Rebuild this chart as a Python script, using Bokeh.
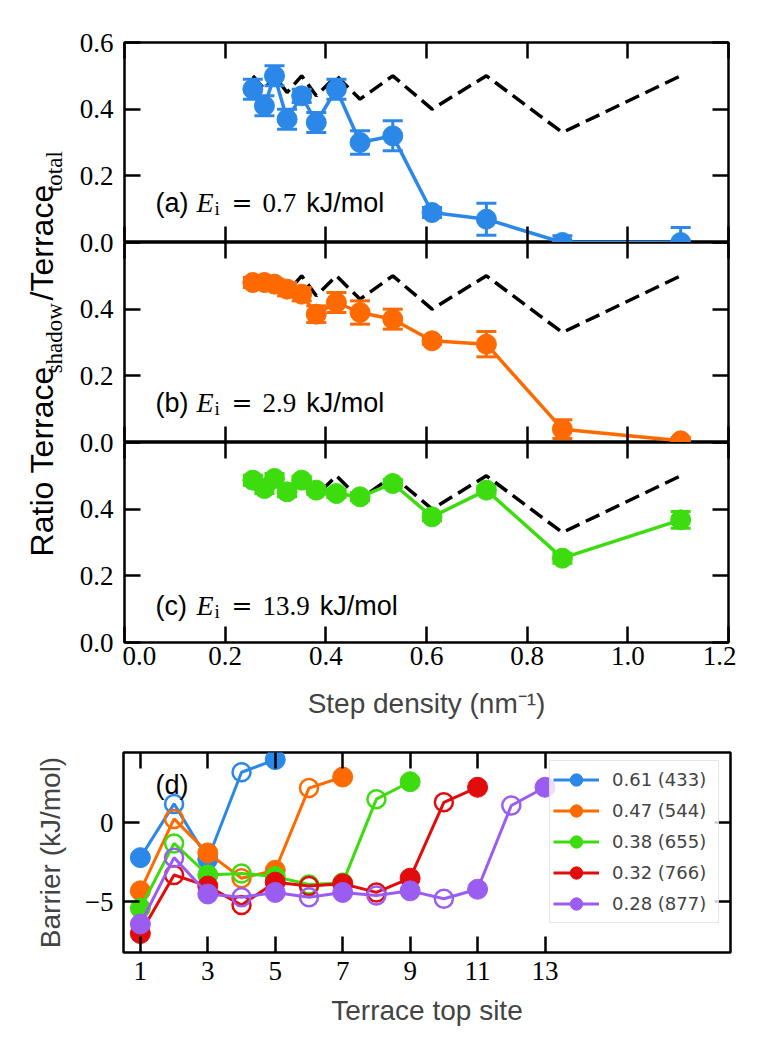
from bokeh.plotting import figure
from bokeh.models import (Range1d, LinearAxis, FixedTicker, Label, Legend,
                          LegendItem, ColumnDataSource)
from bokeh.layouts import column, row
from bokeh.embed import file_html
from bokeh.resources import INLINE

SANS = "Liberation Sans"
SERIF = "Liberation Serif"

# ---------------- data: panels (a)-(c) ----------------
step_density = [0.255, 0.278, 0.298, 0.323, 0.352, 0.381, 0.421, 0.468,
                0.533, 0.611, 0.719, 0.870, 1.105]
ideal_ratio = [0.50, 0.46, 0.50, 0.45, 0.50, 0.44, 0.50, 0.43, 0.50,
               0.40, 0.50, 0.33, 0.50]
ratio_a = [0.46, 0.41, 0.50, 0.37, 0.44, 0.36, 0.46, 0.30, 0.32, 0.09,
           0.07, 0.00, 0.00]
err_a = [0.03, 0.03, 0.03, 0.03, 0.02, 0.03, 0.03, 0.035, 0.045, 0.015,
         0.048, 0.02, 0.045]
ratio_b = [0.48, 0.48, 0.475, 0.46, 0.445, 0.385, 0.42, 0.39, 0.37, 0.305,
           0.295, 0.04, 0.005]
err_b = [0.015, 0.015, 0.015, 0.02, 0.02, 0.025, 0.03, 0.035, 0.03, 0.01,
         0.038, 0.028, 0.01]
ratio_c = [0.487, 0.462, 0.492, 0.452, 0.487, 0.457, 0.447, 0.437, 0.477,
           0.377, 0.457, 0.253, 0.368]
err_c = [0.015, 0.015, 0.015, 0.015, 0.012, 0.012, 0.012, 0.012, 0.012,
         0.012, 0.012, 0.015, 0.025]
panel_letters = ["(a)", "(b)", "(c)"]
panel_energies = ["0.7", "2.9", "13.9"]
panel_colors = ["#2c88e8", "#ff6a00", "#3ddc0f"]

ratio_ticks = [0.0, 0.2, 0.4, 0.6]
ratio_tick_labels = ["0.0", "0.2", "0.4", "0.6"]
density_ticks = [0.0, 0.2, 0.4, 0.6, 0.8, 1.0, 1.2]
density_tick_labels = ["0.0", "0.2", "0.4", "0.6", "0.8", "1.0", "1.2"]

# ---------------- data: panel (d) ----------------
series_labels = ["0.61 (433)", "0.47 (544)", "0.38 (655)", "0.32 (766)", "0.28 (877)"]
series_colors = ["#2c88e8", "#ff6a00", "#3ddc0f", "#e20c0c", "#9b5cf2"]
barrier_061 = [-2.2, 1.2, -2.3, 3.2, 4.0]
barrier_047 = [-4.3, 0.25, -1.9, -3.5, -3.0, 2.2, 2.9]
barrier_038 = [-5.4, -1.3, -3.3, -3.2, -3.4, -3.9, -3.8, 1.5, 2.6]
barrier_032 = [-7.0, -3.3, -4.0, -5.2, -3.75, -4.0, -3.85, -4.4, -3.5, 1.3, 2.25]
barrier_028 = [-6.4, -2.2, -4.5, -4.7, -4.4, -4.7, -4.4, -4.6, -4.3, -4.8,
               -4.2, 1.1, 2.25]
barriers = [barrier_061, barrier_047, barrier_038, barrier_032, barrier_028]
site_ticks = [1, 3, 5, 7, 9, 11, 13]
site_tick_labels = ["1", "3", "5", "7", "9", "11", "13"]
barrier_ticks = [-5, 0]
barrier_tick_labels = ["\u22125", "0"]

COL_H = 42 + 3 * 200 + 105   # height of the stacked panels column


def style_axis(ax, ticks, labels=None):
    ax.ticker = FixedTicker(ticks=ticks)
    ax.major_tick_in = 16
    ax.major_tick_out = 0
    ax.major_tick_line_width = 2.5
    ax.major_tick_line_color = "black"
    ax.minor_tick_line_color = None
    ax.axis_line_color = None
    ax.axis_label = None
    if labels is None:
        ax.major_label_text_font_size = "0px"
        ax.major_label_text_color = None
        ax.major_label_standoff = 0
    else:
        ax.major_label_overrides = {t: l for t, l in zip(ticks, labels)}
        ax.major_label_text_font = SERIF
        ax.major_label_text_font_size = "27px"
        ax.major_label_text_color = "black"


def base_style(p):
    p.outline_line_color = "black"
    p.outline_line_width = 2.5
    p.xgrid.visible = False
    p.ygrid.visible = False
    p.background_fill_color = "white"
    p.border_fill_color = "white"


def add_text(p, txt, x, y, font, size, style="normal", angle=0):
    p.add_layout(Label(x=x, y=y, x_units="screen", y_units="screen", text=txt,
                       text_font=font, text_font_size=size, text_font_style=style,
                       angle=angle, angle_units="deg", text_color="black",
                       text_baseline="alphabetic", text_align="left"))


panels = []
ratios = [ratio_a, ratio_b, ratio_c]
errs = [err_a, err_b, err_c]
for i in range(3):
    last = (i == 2)
    p = figure(frame_width=604, frame_height=200,
               x_range=Range1d(0, 1.2), y_range=Range1d(0, 0.6),
               min_border_left=2, min_border_right=8,
               min_border_top=42 if i == 0 else 0,
               min_border_bottom=105 if last else 0,
               toolbar_location=None, output_backend="svg", title=None)
    base_style(p)
    p.add_layout(LinearAxis(), "above")
    p.add_layout(LinearAxis(), "right")
    for ax in p.yaxis:
        style_axis(ax, ratio_ticks)
    for ax in p.xaxis:
        style_axis(ax, density_ticks)
    if last:
        bx = p.below[0]
        style_axis(bx, density_ticks, density_tick_labels)
        bx.major_label_standoff = 4
        bx.axis_label = "Step density (nm\u207b\u00b9)"
        bx.axis_label_text_font = SANS
        bx.axis_label_text_font_size = "28px"
        bx.axis_label_text_font_style = "normal"
        bx.axis_label_standoff = 20

    c = panel_colors[i]
    p.line(step_density, ideal_ratio, line_color="black", line_width=3.5,
           line_dash="15 7")
    src = ColumnDataSource(dict(
        x=step_density, y=ratios[i],
        lo=[r - e for r, e in zip(ratios[i], errs[i])],
        hi=[r + e for r, e in zip(ratios[i], errs[i])]))
    p.segment(x0="x", y0="lo", x1="x", y1="hi", source=src, line_color=c, line_width=3)
    p.line("x", "y", source=src, line_color=c, line_width=3.5)
    p.scatter("x", "y", source=src, size=20, fill_color=c, line_color=c)
    p.scatter("x", "lo", source=src, marker="dash", size=20, line_color=c, line_width=3)
    p.scatter("x", "hi", source=src, marker="dash", size=20, line_color=c, line_width=3)

    # annotation text "(a) E_i = 0.7 kJ/mol"
    yb = 37 if last else 40
    num_w = sum(6.75 if ch == "." else 13.5 for ch in panel_energies[i])
    add_text(p, panel_letters[i], 31, yb, SANS, "27px")
    add_text(p, "E", 72, yb, SERIF, "28px", "italic")
    add_text(p, "i", 90, yb - 6, SERIF, "19px")
    add_text(p, "=", 107, yb, "DejaVu Serif", "25px")
    add_text(p, panel_energies[i], 138, yb, SERIF, "27px")
    add_text(p, "kJ/mol", 138 + num_w + 10, yb, SANS, "27px")
    panels.append(p)

# ---------------- strip with the rotated y label ----------------
Y = figure(frame_width=76, frame_height=COL_H, x_range=Range1d(0, 1),
           y_range=Range1d(0, 1), min_border_left=0, min_border_right=0,
           min_border_top=0, min_border_bottom=0, x_axis_location=None,
           y_axis_location=None, toolbar_location=None, output_backend="svg",
           title=None)
Y.outline_line_color = None
Y.xgrid.visible = False
Y.ygrid.visible = False
# (text, font, size in px, page y where the piece starts, page x of its baseline)
ylab = [
    ("Ratio Terrace", SANS, 32, 552.0, 55),
    ("shadow", SERIF, 23, 358.2, 63),
    ("/Terrace", SANS, 32, 296.0, 55),
    ("total", SERIF, 23, 176.9, 63),
]
for txt, font, fs, ypage, xpage in ylab:
    # rotated labels are drawn offset by roughly (0.41, 1.19) x font size
    ax_ = xpage - 0.41 * fs
    ay_ = ypage - 1.19 * fs
    add_text(Y, txt, ax_, COL_H - ay_, font, f"{fs}px", angle=90)

# ---------------- strip with stacked tick labels ----------------
L = figure(frame_width=7, frame_height=600, x_range=Range1d(0, 1),
           y_range=Range1d(0, 1.8), min_border_left=38, min_border_right=0,
           min_border_top=42, min_border_bottom=105, x_axis_location=None,
           y_axis_location="left", toolbar_location=None, output_backend="svg",
           title=None)
L.outline_line_color = None
L.xgrid.visible = False
L.ygrid.visible = False
stack_ticks, stack_labels = [], []
for k in range(3):
    for t, lab in zip(ratio_ticks[:3], ratio_tick_labels[:3]):
        stack_ticks.append(round(k * 0.6 + t, 6))
        stack_labels.append(lab)
stack_ticks.append(1.8)
stack_labels.append(ratio_tick_labels[3])
ly = L.yaxis[0]
ly.ticker = FixedTicker(ticks=stack_ticks)
ly.major_label_overrides = {t: l for t, l in zip(stack_ticks, stack_labels)}
ly.major_tick_in = 0
ly.major_tick_out = 0
ly.minor_tick_line_color = None
ly.axis_line_color = None
ly.major_tick_line_color = None
ly.major_label_standoff = 2
ly.major_label_text_font = SERIF
ly.major_label_text_font_size = "27px"
ly.major_label_text_color = "black"

# ---------------- panel (d) ----------------
fd = figure(frame_width=607, frame_height=200, x_range=Range1d(0.5, 18.5),
            y_range=Range1d(-8.2, 4.45), min_border_left=123, min_border_right=8,
            min_border_top=5, min_border_bottom=100, toolbar_location=None,
            output_backend="svg", title=None)
base_style(fd)
fd.add_layout(LinearAxis(), "above")
fd.add_layout(LinearAxis(), "right")
for ax in fd.xaxis:
    style_axis(ax, site_ticks)
for ax in fd.yaxis:
    style_axis(ax, barrier_ticks)
bx = fd.below[0]
style_axis(bx, site_ticks, site_tick_labels)
bx.major_label_standoff = 9
bx.axis_label = "Terrace top site"
lx = fd.left[0]
style_axis(lx, barrier_ticks, barrier_tick_labels)
lx.major_label_standoff = 10
lx.axis_label = "Barrier (kJ/mol)"
for ax in (bx, lx):
    ax.axis_label_text_font = SANS
    ax.axis_label_text_font_size = "28px"
    ax.axis_label_text_font_style = "normal"
bx.axis_label_standoff = 12
lx.axis_label_standoff = 16

items = []
for lab, c, vals in zip(series_labels, series_colors, barriers):
    sites = list(range(1, len(vals) + 1))
    r_line = fd.line(sites, vals, line_color=c, line_width=3)
    odd = [(s, v) for s, v in zip(sites, vals) if s % 2 == 1]
    even = [(s, v) for s, v in zip(sites, vals) if s % 2 == 0]
    r_fill = fd.scatter([s for s, _ in odd], [v for _, v in odd], size=20,
                        fill_color=c, line_color=c)
    fd.scatter([s for s, _ in even], [v for _, v in even], size=18,
               fill_color=None, line_color=c, line_width=2.5)
    items.append(LegendItem(label=lab, renderers=[r_line, r_fill]))

legend = Legend(items=items, location=(426, 29), glyph_width=46, glyph_height=31,
                spacing=0, padding=3, label_standoff=13, label_width=103,
                label_height=20,
                label_text_font="DejaVu Sans", label_text_font_size="18px",
                border_line_color="#cccccc", border_line_width=1.5,
                background_fill_alpha=0.8)
fd.add_layout(legend)
add_text(fd, "(d)", 32, 168, SANS, "27px")

layout = column(row(Y, L, column(*panels)), fd)
open("out.html", "w").write(file_html(layout, INLINE))
